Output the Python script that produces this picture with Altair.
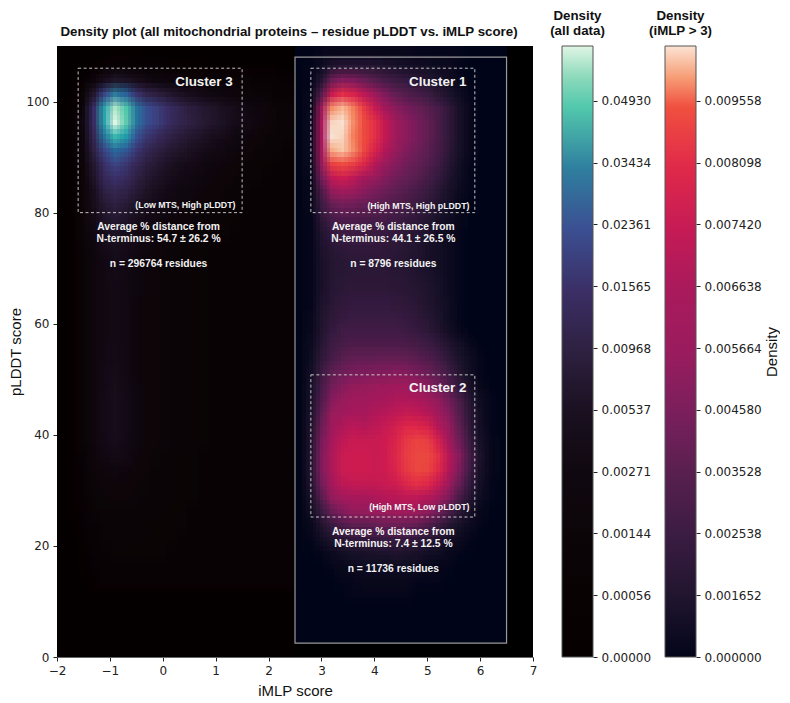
import altair as alt
import pandas as pd

alt.data_transformers.disable_max_rows()

# Colour-bar position (0-100) of each cell. Rows run from top (pLDDT 110) down.
ALL_X_EDGES = [-2 + 0.2 * i for i in range(24)]
ALL_X_EDGES[-1] = 2.6
ALL_ROWS = [
    [3,4,5,6,7,8,8,8,7,7,7,6,6,6,6,5,5,5,5,5,5,5,5],
    [4,5,7,10,14,16,16,15,14,14,13,12,12,11,11,10,10,9,9,8,8,7,7],
    [5,7,14,26,38,44,42,37,33,30,28,26,24,23,22,21,20,19,18,17,16,15,14],
    [6,9,22,46,68,80,74,62,54,50,46,42,38,35,32,29,27,24,22,20,18,17,16],
    [7,11,30,60,85,97,90,78,70,65,60,55,50,47,44,41,38,34,30,27,23,21,19],
    [7,12,32,60,85,100,91,78,70,65,60,55,51,48,45,42,38,35,31,27,23,21,19],
    [7,12,30,56,78,88,84,71,63,58,53,49,46,43,40,37,33,29,26,23,20,19,18],
    [7,12,28,52,68,76,72,63,56,51,47,44,41,38,35,32,29,26,23,20,19,18,17],
    [7,12,26,46,61,67,63,56,50,46,42,39,36,33,30,28,26,23,20,19,18,17,17],
    [7,12,24,43,56,61,58,51,46,42,38,35,32,29,27,25,23,20,19,18,17,17,16],
    [7,12,24,40,51,55,52,47,42,38,34,31,29,27,25,23,21,19,18,17,17,16,16],
    [7,12,24,38,46,50,47,42,38,34,31,28,26,24,22,21,20,18,17,17,16,16,16],
    [7,12,23,35,43,46,43,38,34,31,28,26,24,22,21,20,19,18,17,16,16,16,16],
    [7,12,22,32,39,42,39,35,31,28,26,24,22,21,20,19,18,17,16,16,16,16,16],
    [7,12,21,30,36,39,36,32,29,26,24,22,20,19,18,17,17,16,16,16,16,16,16],
    [7,12,20,28,33,36,34,30,27,24,22,21,20,19,18,17,17,16,16,16,16,16,16],
    [7,12,20,27,32,35,33,29,26,24,22,21,20,19,18,17,17,16,16,16,16,16,16],
    [7,12,20,27,32,34,32,29,26,24,22,21,20,19,18,17,17,16,16,16,16,16,16],
    [7,12,20,27,32,34,32,28,25,23,22,21,20,19,18,17,17,16,16,16,16,16,16],
    [7,12,20,27,32,34,32,28,25,23,22,21,20,19,18,17,17,16,16,16,16,16,16],
    [7,12,19,27,32,34,32,28,25,23,22,21,20,19,18,17,17,16,16,16,16,16,16],
    [7,12,19,27,33,35,33,28,25,23,22,21,20,19,18,17,17,16,16,16,16,16,16],
    [7,12,19,27,33,35,33,28,25,23,22,21,20,19,18,17,17,16,16,16,16,16,16],
    [7,12,19,28,34,36,33,28,25,23,22,21,20,19,18,17,17,16,16,16,16,16,16],
    [7,12,19,28,34,37,34,29,25,23,22,21,20,19,18,17,17,16,16,16,16,16,16],
    [7,12,19,28,35,38,35,29,25,23,22,21,20,19,18,17,17,16,16,16,16,16,16],
    [7,12,19,28,35,38,35,29,25,23,22,21,20,19,18,17,17,16,16,16,16,16,16],
    [7,12,19,28,35,38,35,29,25,23,22,21,20,19,18,17,17,16,16,16,16,16,16],
    [7,12,19,28,34,37,34,29,25,23,22,21,20,19,18,17,17,16,16,16,16,16,16],
    [7,12,18,26,32,34,32,28,24,22,21,20,19,18,18,17,17,16,16,16,16,16,16],
    [7,11,18,24,28,30,28,25,23,21,20,20,19,18,18,17,17,16,16,16,16,16,16],
    [6,10,17,22,25,26,25,23,22,21,20,19,19,18,18,17,17,16,16,16,16,16,16],
    [5,9,16,20,22,23,23,22,21,20,20,19,19,18,18,17,17,16,16,16,16,16,16],
    [4,8,15,19,21,21,21,21,20,20,19,19,18,18,18,17,17,16,16,16,16,16,16],
    [3,7,14,18,20,20,20,20,20,19,19,19,18,18,17,17,17,16,16,16,16,16,16],
    [2,5,12,17,19,20,20,20,19,19,19,18,18,18,17,17,16,16,16,16,16,16,16],
    [1,4,10,16,18,19,19,19,19,19,18,18,18,17,17,17,16,16,16,16,16,16,16],
    [1,2,8,14,17,18,18,18,18,18,18,18,17,17,17,16,16,16,16,16,16,16,16],
    [0,1,5,12,16,16,16,16,16,16,16,16,16,16,16,16,16,16,16,16,16,16,16],
    [0,0,0,1,1,1,1,1,1,1,1,1,1,1,1,1,1,1,1,1,1,1,1],
    [0] * 23,
    [0] * 23,
    [0] * 23,
    [0] * 23,
]

HIGH_X_EDGES = [2.5 + 0.2 * i for i in range(21)]
HIGH_ROWS = [
    [0,0,1,2,2,2,2,2,2,2,2,1,1,1,1,1,0,0,0,0],
    [0,1,4,11,14,14,14,13,11,9,7,6,5,4,3,1,0,0,0,0],
    [0,1,12,36,44,42,36,30,25,21,18,15,12,8,5,2,0,0,0,0],
    [0,2,30,72,82,78,68,54,42,34,29,25,21,15,9,4,1,0,0,0],
    [0,2,52,94,97,93,85,72,58,46,40,35,31,25,17,8,2,0,0,0],
    [0,3,60,99,100,94,89,82,70,55,46,40,34,26,17,8,2,0,0,0],
    [0,3,60,100,99,93,89,82,70,55,46,40,34,26,17,8,2,0,0,0],
    [0,3,56,96,98,94,88,78,64,50,43,37,32,25,16,7,2,0,0,0],
    [0,3,48,86,90,86,79,66,52,44,38,34,29,22,13,5,1,0,0,0],
    [0,2,38,68,74,68,58,50,43,38,34,30,25,18,10,4,1,0,0,0],
    [0,2,26,48,54,50,45,40,36,32,29,25,20,14,8,3,1,0,0,0],
    [0,2,20,33,38,36,34,32,29,27,24,20,16,11,6,2,0,0,0,0],
    [0,1,15,24,27,27,26,25,24,22,19,16,12,8,4,2,0,0,0,0],
    [0,1,11,18,21,21,21,20,19,18,15,13,10,6,3,1,0,0,0,0],
    [0,1,9,14,16,17,17,17,16,15,13,11,8,5,3,1,0,0,0,0],
    [0,1,8,12,14,15,15,15,15,14,12,10,8,5,3,1,0,0,0,0],
    [0,1,8,12,14,15,15,15,15,14,13,11,9,6,3,1,0,0,0,0],
    [0,1,8,13,15,16,16,16,16,15,14,12,10,7,3,1,0,0,0,0],
    [0,1,9,14,17,18,18,18,18,17,16,14,11,8,4,1,0,0,0,0],
    [0,2,10,16,19,20,20,20,20,20,18,16,13,9,4,1,0,0,0,0],
    [0,2,11,18,22,23,23,23,23,23,21,19,16,11,5,2,0,0,0,0],
    [0,3,13,21,25,27,27,27,27,27,26,24,21,17,11,6,2,0,0,0],
    [0,4,16,25,30,33,33,33,34,34,33,31,28,23,16,9,4,1,0,0],
    [0,6,20,32,37,40,41,42,43,44,43,40,36,30,22,12,5,1,0,0],
    [0,7,24,38,44,48,49,51,53,54,54,51,46,38,28,18,8,2,0,0],
    [0,8,28,44,50,54,55,58,60,62,63,61,56,48,38,26,13,4,1,0],
    [0,9,32,50,56,60,60,63,66,69,71,70,66,56,44,30,15,5,1,0],
    [0,10,36,55,63,67,66,68,71,75,80,80,78,66,50,33,17,6,1,0],
    [0,11,40,60,69,72,71,71,73,78,84,87,86,76,58,38,20,7,2,0],
    [0,12,42,62,72,73,73,72,73,79,85,88,88,82,66,44,24,9,2,0],
    [0,12,42,62,72,73,73,72,73,78,84,88,87,80,64,42,23,8,2,0],
    [0,11,38,58,68,70,70,70,71,74,79,82,80,71,54,35,18,6,1,0],
    [0,8,30,48,57,60,60,62,64,66,68,68,64,56,42,26,13,4,1,0],
    [0,5,20,35,43,48,48,50,52,54,54,52,47,38,26,15,7,2,0,0],
    [0,2,10,20,27,32,32,34,36,36,35,33,28,21,13,7,3,1,0,0],
    [0,1,5,10,14,17,17,19,20,20,19,17,14,10,6,3,1,0,0,0],
    [0,0,1,3,5,7,8,9,9,10,9,8,6,4,2,1,0,0,0,0],
    [0,0,0,1,2,3,4,4,4,4,4,3,2,1,1,0,0,0,0,0],
    [0,0,0,0,1,1,2,2,2,2,2,1,1,1,0,0,0,0,0,0],
    [0,0,0,0,0,1,1,1,1,1,1,0,0,0,0,0,0,0,0,0],
    [0] * 20,
    [0] * 20,
    [0] * 20,
]

LEVELS = [0, 10, 20, 30, 40, 50, 60, 70, 80, 90, 95, 100]
ALL_COLORS = ["#060001", "#080203", "#0c0508", "#100810", "#1a1020", "#2e2040",
              "#3b2f66", "#3b4f92", "#2f7f9f", "#52c8ac", "#8edabc", "#e0f5e4"]
HIGH_COLORS = ["#03051a", "#21152f", "#3b1c42", "#58204f", "#7a1f5c", "#9a1c5e",
               "#a91a5c", "#c51b55", "#e0294a", "#f0503f", "#f79f78", "#fbe3d3"]

ALL_TICKS = [0, 0.00056, 0.00144, 0.00271, 0.00537, 0.00968, 0.01565, 0.02361, 0.03434, 0.04930]
ALL_TOP = 0.0789
HIGH_TICKS = [0, 0.001652, 0.002538, 0.003528, 0.00458, 0.005664, 0.006638, 0.00742, 0.008098, 0.009558]
HIGH_TOP = 0.0112

BOXES = pd.DataFrame({"x0": [-1.6, 2.8, 2.8], "x1": [1.5, 5.9, 5.9],
                      "y0": [80, 80, 25.2], "y1": [106, 106, 50.8]})
FRAME = pd.DataFrame({"x0": [2.5], "x1": [6.5], "y0": [2.5], "y1": [108]})
CLUSTER_LABELS = pd.DataFrame({"x": [1.32, 5.74, 5.74], "y": [103.6, 103.5, 48.4],
                               "t": ["Cluster 3", "Cluster 1", "Cluster 2"]})
SUB_LABELS = pd.DataFrame({"x": [1.375, 5.8, 5.8], "y": [81.3, 81.2, 27],
                           "t": ["(Low MTS, High pLDDT)", "(High MTS, High pLDDT)", "(High MTS, Low pLDDT)"]})
NOTES = pd.DataFrame({
    "x": [-0.08, -0.08, -0.08, 4.36, 4.36, 4.36, 4.36, 4.36, 4.36],
    "y": [77.4, 75.2, 70.7, 77.4, 75.2, 70.7, 22.5, 20.4, 15.9],
    "t": ["Average % distance from", "N-terminus: 54.7 ± 26.2 %", "n = 296764 residues",
          "Average % distance from", "N-terminus: 44.1 ± 26.5 %", "n = 8796 residues",
          "Average % distance from", "N-terminus: 7.4 ± 12.5 %", "n = 11736 residues"],
})

TICK_FONT = "DejaVu Sans"
TEXT_FONT = "Liberation Sans"
PLOT_W, PLOT_H = 476, 611
x_scale = alt.Scale(domain=[-2, 7], nice=False, zero=False)
y_scale = alt.Scale(domain=[0, 110], nice=False, zero=False)
x_axis = alt.Axis(values=list(range(-2, 8)), title="iMLP score", grid=False, labelFont=TICK_FONT,
                  labelFontSize=12, titleFont=TEXT_FONT, titleFontSize=15, titleFontWeight="normal",
                  titleColor="#111", labelColor="#222", tickColor="#222", domainColor="#666",
                  tickSize=4, titlePadding=7, labelPadding=4, labelFlush=False, labelOverlap=False)
y_axis = alt.Axis(values=[0, 20, 40, 60, 80, 100], title="pLDDT score", grid=False, labelFont=TICK_FONT,
                  labelFontSize=12, titleFont=TEXT_FONT, titleFontSize=15, titleFontWeight="normal",
                  titleColor="#111", labelColor="#222", tickColor="#222", domainColor="#666",
                  tickSize=4, titlePadding=3, labelPadding=4, labelFlush=False, labelOverlap=False)


def snap_x(v):
    # keep cell edges on whole pixels so neighbouring cells leave no hairline between them
    k = PLOT_W / 9
    return round((v + 2) * k) / k - 2


def snap_y(v):
    k = PLOT_H / 110
    return round(v * k) / k


def cells(rows, edges, y_low, dx, dy):
    top = y_low + 2.5 * len(rows)
    out = []
    for r, row in enumerate(rows):
        y1 = top - 2.5 * r
        y0 = y1 - 2.5
        for c, v in enumerate(row):
            out.append({
                "x0": snap_x(edges[0] if c == 0 else edges[c] + dx),
                "x1": snap_x(edges[-1] if c == len(row) - 1 else edges[c + 1] + dx),
                "y0": snap_y(y_low if r == len(rows) - 1 else y0 + dy),
                "y1": snap_y(top if r == 0 else y1 + dy),
                "level": v,
            })
    return pd.DataFrame(out)


def field_layers(rows, edges, y_low, colors):
    scale = alt.Scale(domain=LEVELS, range=colors)
    out = []
    k = 0
    for dy in (-0.833, 0, 0.833):
        for dx in (-0.0667, 0, 0.0667):
            k += 1
            enc = dict(
                x=alt.X("x0:Q", scale=x_scale, axis=x_axis),
                x2="x1:Q",
                y=alt.Y("y0:Q", scale=y_scale, axis=y_axis),
                y2="y1:Q",
                fill=alt.Fill("level:Q", scale=scale, legend=None),
            )
            mark = alt.Chart(cells(rows, edges, y_low, dx, dy)).mark_rect(opacity=1 / k)
            out.append(mark.encode(**enc))
    return alt.layer(*out).resolve_scale(fill="shared")


def boxes(df, **kw):
    return alt.Chart(df).mark_rect(filled=False, **kw).encode(
        x=alt.X("x0:Q", scale=x_scale, axis=x_axis), x2="x1:Q",
        y=alt.Y("y0:Q", scale=y_scale, axis=y_axis), y2="y1:Q")


def labels(df, **kw):
    return alt.Chart(df).mark_text(font=TEXT_FONT, fontWeight="bold", color="#f2f2f2", **kw).encode(
        x=alt.X("x:Q", scale=x_scale, axis=x_axis), y=alt.Y("y:Q", scale=y_scale, axis=y_axis), text="t:N")


main = alt.layer(
    field_layers(ALL_ROWS, ALL_X_EDGES, 0, ALL_COLORS),
    field_layers(HIGH_ROWS, HIGH_X_EDGES, 2.5, HIGH_COLORS),
    boxes(FRAME, stroke="#999999", strokeWidth=1.2),
    boxes(BOXES, stroke="#d8d8d8", strokeWidth=0.9, strokeDash=[3, 2.5]),
    labels(CLUSTER_LABELS, fontSize=13.4, align="right", baseline="middle"),
    labels(SUB_LABELS, fontSize=8.8, align="right", baseline="middle"),
    labels(NOTES, fontSize=10.3, align="center", baseline="middle"),
).resolve_scale(fill="independent").properties(
    width=PLOT_W, height=PLOT_H,
    title=alt.TitleParams("Density plot (all mitochondrial proteins – residue pLDDT vs. iMLP score)",
                          font=TEXT_FONT, fontSize=13.3, fontWeight="bold", color="#111", offset=8, dx=-6,
                          anchor="middle"),
)


def colorbar(colors, ticks, top, fmt, title, axis_title=None):
    h = PLOT_H
    ranges = [h - 61.8 * i for i in range(len(ticks))] + [0]
    stops = [alt.GradientStop(offset=lv / 100, color=c) for lv, c in zip(LEVELS, colors)]
    grad = alt.Gradient(gradient="linear", stops=stops, x1=0, x2=0, y1=1, y2=0)
    return alt.Chart(pd.DataFrame({"a": [0], "b": [top]})).mark_rect(
        fill=grad, stroke="#555", strokeWidth=1).encode(
        x=alt.value(0), x2=alt.value(31),
        y=alt.Y("a:Q",
                scale=alt.Scale(domain=ticks + [top], range=ranges, nice=False, zero=False, clamp=True),
                axis=alt.Axis(orient="right", values=ticks, format=fmt, grid=False, domain=False,
                              labelFont=TICK_FONT, labelFontSize=12, labelColor="#222", tickColor="#222",
                              tickSize=4, labelPadding=4, labelFlush=False, labelOverlap=False,
                              title=axis_title, titleFont=TEXT_FONT, titleAngle=270, titleBaseline="top",
                              titleFontSize=15, titleFontWeight="normal", titleColor="#111", titlePadding=3)),
        y2="b:Q",
    ).properties(width=31, height=h, title=alt.TitleParams(
        title, font=TEXT_FONT, fontSize=13.3, fontWeight="bold", color="#111", offset=8, lineHeight=15.5, anchor="middle"))


bar_all = colorbar(ALL_COLORS, ALL_TICKS, ALL_TOP, ".5f", ["Density", "(all data)"])
bar_high = colorbar(HIGH_COLORS, HIGH_TICKS, HIGH_TOP, ".6f", ["Density", "(iMLP > 3)"], "Density")

chart = alt.hconcat(main, alt.hconcat(bar_all, bar_high, spacing=72, bounds="flush"), spacing=29, bounds="flush") \
    .configure_view(fill="#000000", stroke=None) \
    .properties(background="white", padding=0)

chart.save("out.html", embed_options={"renderer": "svg", "actions": False})
